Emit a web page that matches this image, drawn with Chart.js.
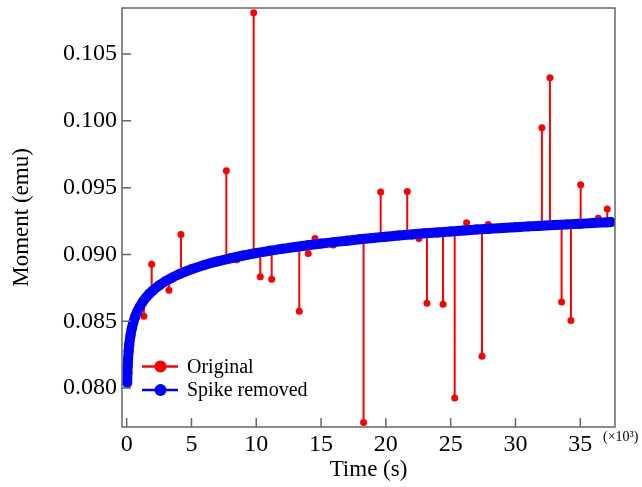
<!DOCTYPE html>
<html>
<head>
<meta charset="utf-8">
<title>Moment vs time</title>
<script src="https://cdn.jsdelivr.net/npm/chart.js@4/dist/chart.umd.min.js"></script>
<style>
    html, body { margin: 0; padding: 0; background: #fff; }
    #wrap { width: 642px; height: 487px; }
</style>
</head>
<body>
<div id="wrap"><canvas id="chart" width="642" height="487"></canvas></div>
<script>
// Data (time in 10^3 s, moment in emu)
const blueTime = [0.04, 0.06, 0.08, 0.1, 0.15, 0.2, 0.3, 0.4, 0.5, 0.65, 0.8, 1.0, 1.25, 1.5, 1.75, 2.0, 2.5, 3.0, 3.5, 4.0, 4.5,
    5, 6, 7, 8, 9, 10, 11, 12, 13, 14, 15, 16, 17, 18, 19, 20, 21, 22, 23, 24, 25, 26, 27, 28, 29, 30, 31, 32, 33, 34, 35, 36, 37, 37.35];
const blueMoment = [0.08040, 0.08115, 0.08165, 0.08204, 0.08275, 0.08325, 0.08396, 0.08447, 0.08486, 0.08532, 0.08568, 0.08607,
    0.08646, 0.08678, 0.08705, 0.08728, 0.08767, 0.08799, 0.08826, 0.08850, 0.08870, 0.08889, 0.08921, 0.08948, 0.08971, 0.08992,
    0.09010, 0.09027, 0.09042, 0.09056, 0.09069, 0.09081, 0.09092, 0.09103, 0.09113, 0.09123, 0.09133, 0.09142, 0.09150, 0.09158,
    0.09165, 0.09172, 0.09179, 0.09186, 0.09192, 0.09198, 0.09204, 0.09210, 0.09215, 0.09220, 0.09225, 0.09230, 0.09235, 0.09240, 0.09242];

// spikes in the original record
const spikeTime = [1.33, 1.93, 3.26, 4.19, 7.69, 8.5, 9.80, 10.31, 11.19, 13.32, 14.01, 14.53, 15.94, 18.28, 19.6, 21.65, 22.55,
    23.17, 24.41, 25.31, 26.23, 27.42, 27.9, 32.04, 32.66, 33.56, 34.28, 35.03, 36.39, 37.08];
const spikeMoment = [0.08537, 0.08927, 0.08732, 0.09150, 0.09627, 0.08960, 0.10810, 0.08832, 0.08815, 0.08575, 0.09007, 0.09120,
    0.09070, 0.07741, 0.09467, 0.09472, 0.09120, 0.08635, 0.08627, 0.07925, 0.09237, 0.08238, 0.09225, 0.09948, 0.10322, 0.08643,
    0.08505, 0.09522, 0.09270, 0.09340];
const spikeBase = [0.08650, 0.08720, 0.08810, 0.08850, 0.08960, 0.08980, 0.09010, 0.09020, 0.09030, 0.09060, 0.09070, 0.09075,
    0.09090, 0.09113, 0.09130, 0.09147, 0.09154, 0.09160, 0.09168, 0.09172, 0.09178, 0.09188, 0.09191, 0.09215, 0.09218, 0.09223,
    0.09226, 0.09230, 0.09236, 0.09240];

const xTicks = [0, 5, 10, 15, 20, 25, 30, 35];
const yTicks = [0.080, 0.085, 0.090, 0.095, 0.100, 0.105];

const bluePoints = blueTime.map((t, i) => ({ x: t, y: blueMoment[i] }));
const redPoints = bluePoints.map(p => ({ x: p.x, y: p.y }));
spikeTime.forEach((t, i) => {
    redPoints.push({ x: t, y: spikeBase[i] });
    redPoints.push({ x: t, y: spikeMoment[i] });
    redPoints.push({ x: t, y: spikeBase[i] });
});
redPoints.sort((a, b) => a.x - b.x);

const FONT = "'Liberation Serif', 'Times New Roman', serif";
Chart.defaults.font.family = FONT;
Chart.defaults.color = '#000';

// frame, inward ticks, legend and the x10^3 note
const decorPlugin = {
    id: 'decor',
    afterDraw(chart) {
        const { ctx, chartArea: a, scales } = chart;
        ctx.save();
        ctx.strokeStyle = '#666';
        ctx.lineWidth = 1.5;
        ctx.strokeRect(a.left, a.top, a.right - a.left, a.bottom - a.top);
        ctx.beginPath();
        yTicks.forEach(v => {
            const y = scales.y.getPixelForValue(v);
            ctx.moveTo(a.left, y);
            ctx.lineTo(a.left + 9, y);
        });
        xTicks.forEach(v => {
            const x = scales.x.getPixelForValue(v);
            ctx.moveTo(x, a.bottom);
            ctx.lineTo(x, a.bottom - 9);
        });
        ctx.stroke();

        // legend
        const rows = [
            { label: 'Original', color: '#ff0000', y: 366.5 },
            { label: 'Spike removed', color: '#0000ff', y: 390 }
        ];
        rows.forEach(r => {
            ctx.strokeStyle = r.color;
            ctx.fillStyle = r.color;
            ctx.lineWidth = 2.5;
            ctx.beginPath();
            ctx.moveTo(142, r.y);
            ctx.lineTo(178, r.y);
            ctx.stroke();
            ctx.beginPath();
            ctx.arc(160.5, r.y, 6, 0, Math.PI * 2);
            ctx.fill();
            ctx.fillStyle = '#000';
            ctx.font = '20px ' + FONT;
            ctx.textAlign = 'left';
            ctx.textBaseline = 'middle';
            ctx.fillText(r.label, 187, r.y + 1);
        });

        ctx.font = '14px ' + FONT;
        ctx.textBaseline = 'alphabetic';
        ctx.fillText('(×10³)', 603, 441);
        ctx.restore();
    }
};

new Chart(document.getElementById('chart'), {
    type: 'line',
    data: {
        datasets: [
            {
                label: 'Spike removed',
                data: bluePoints,
                borderColor: '#0000ff',
                backgroundColor: '#0000ff',
                borderWidth: 10,
                borderCapStyle: 'round',
                borderJoinStyle: 'round',
                pointRadius: 5,
                pointBorderWidth: 0,
                cubicInterpolationMode: 'monotone'
            },
            {
                label: 'Original',
                data: redPoints,
                borderColor: '#ff0000',
                backgroundColor: '#ff0000',
                borderWidth: 2,
                pointRadius: 3.5,
                pointBorderWidth: 0,
                tension: 0
            }
        ]
    },
    options: {
        responsive: false,
        animation: false,
        layout: { padding: { left: 0, right: 27, top: 8, bottom: 0 } },
        plugins: {
            legend: { display: false },
            tooltip: { enabled: false }
        },
        scales: {
            x: {
                type: 'linear',
                min: -0.36,
                max: 37.68,
                grid: { display: false, drawTicks: false },
                border: { display: false },
                afterBuildTicks: s => { s.ticks = xTicks.map(v => ({ value: v })); },
                afterFit: s => { s.height = 60; s.paddingLeft = 0; s.paddingRight = 0; },
                ticks: {
                    font: { size: 24 },
                    padding: 3,
                    maxRotation: 0,
                    callback: v => String(v)
                },
                title: {
                    display: true,
                    text: 'Time (s)',
                    font: { size: 23 },
                    padding: { top: 0, bottom: 3 }
                }
            },
            y: {
                min: 0.07708,
                max: 0.10845,
                grid: { display: false, drawTicks: false },
                border: { display: false },
                afterBuildTicks: s => { s.ticks = yTicks.map(v => ({ value: v })); },
                afterFit: s => { s.width = 122; s.paddingTop = 0; s.paddingBottom = 0; },
                ticks: {
                    font: { size: 24 },
                    padding: 5,
                    callback: v => v.toFixed(3)
                },
                title: {
                    display: true,
                    text: 'Moment (emu)',
                    font: { size: 23 },
                    padding: { top: 8, bottom: 0 }
                }
            }
        }
    },
    plugins: [decorPlugin]
});
</script>
</body>
</html>
